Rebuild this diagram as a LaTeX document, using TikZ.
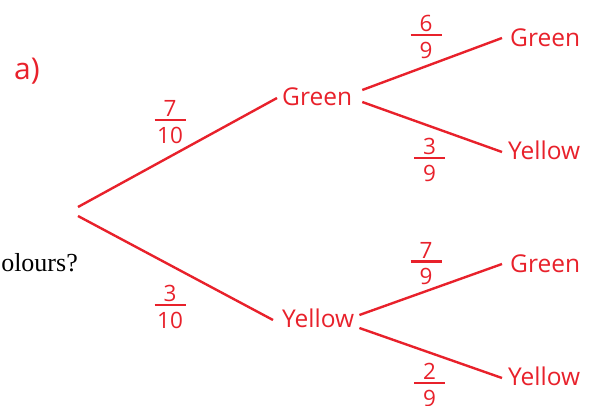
\documentclass[tikz,border=0pt]{standalone}
\usepackage{fontspec}
\setmainfont{Open Sans}
\newfontfamily\serifx{Liberation Serif}
\definecolor{tred}{HTML}{E8212B}
\newcommand{\fr}[2]{\vbox{\offinterlineskip\hbox to 31pt{\hss#1\hss}\kern2.3pt\hrule height 2.4pt\kern5.8pt\hbox to 31pt{\hss#2\hss}}}
\begin{document}
\begin{tikzpicture}[x=1pt,y=-1pt,
  lbl/.style={text=tred,font=\fontsize{24.5}{28}\selectfont,inner sep=0pt},
  prob/.style={text=tred,font=\fontsize{22.5}{26}\selectfont,inner sep=0pt},
  branch/.style={draw=tred,line width=2.4pt}]
\useasboundingbox (0,0) rectangle (593,406);
% labels
\node[text=tred,font=\fontsize{30}{34}\selectfont,inner sep=0pt] (parta) at (27,71) {a)};
\node[anchor=base east,font=\serifx\fontsize{26}{30}\selectfont,inner sep=0pt] (question) at (78,271) {olours?};
% tree nodes
\coordinate (rA) at (78,207);
\coordinate (rB) at (78,216);
\node[lbl,anchor=west] (g1) at (282,97) {Green};
\node[lbl,anchor=west] (y1) at (282,318) {Yellow};
\node[lbl,anchor=west] (g2) at (510,38) {Green};
\node[lbl,anchor=west] (y2) at (508,150) {Yellow};
\node[lbl,anchor=west] (g3) at (510,264) {Green};
\node[lbl,anchor=west] (y3) at (508,376) {Yellow};
% branches
\draw[branch] (rA) -- ([xshift=-5pt,yshift=-1pt]g1.west);
\draw[branch] (rB) -- ([xshift=-9pt,yshift=-2pt]y1.west);
\draw[branch] ([xshift=10pt,yshift=7pt]g1.east) -- ([xshift=-8pt]g2.west);
\draw[branch] ([xshift=10pt,yshift=-5pt]g1.east) -- ([xshift=-6pt,yshift=-2pt]y2.west);
\draw[branch] ([xshift=5pt,yshift=3pt]y1.east) -- ([xshift=-8pt]g3.west);
\draw[branch] ([xshift=5pt,yshift=-10pt]y1.east) -- ([xshift=-6pt,yshift=-2pt]y3.west);
% probabilities
\node[prob] (p710) at (170,121.8) {\fr{7}{10}};
\node[prob] (p310) at (170,306.8) {\fr{3}{10}};
\node[prob] (p69) at (426,36.8) {\fr{6}{9}};
\node[prob] (p39) at (429.5,159.8) {\fr{3}{9}};
\node[prob] (p79) at (426,263.5) {\fr{7}{9}};
\node[prob] (p29) at (429.5,385) {\fr{2}{9}};
\end{tikzpicture}
\end{document}
